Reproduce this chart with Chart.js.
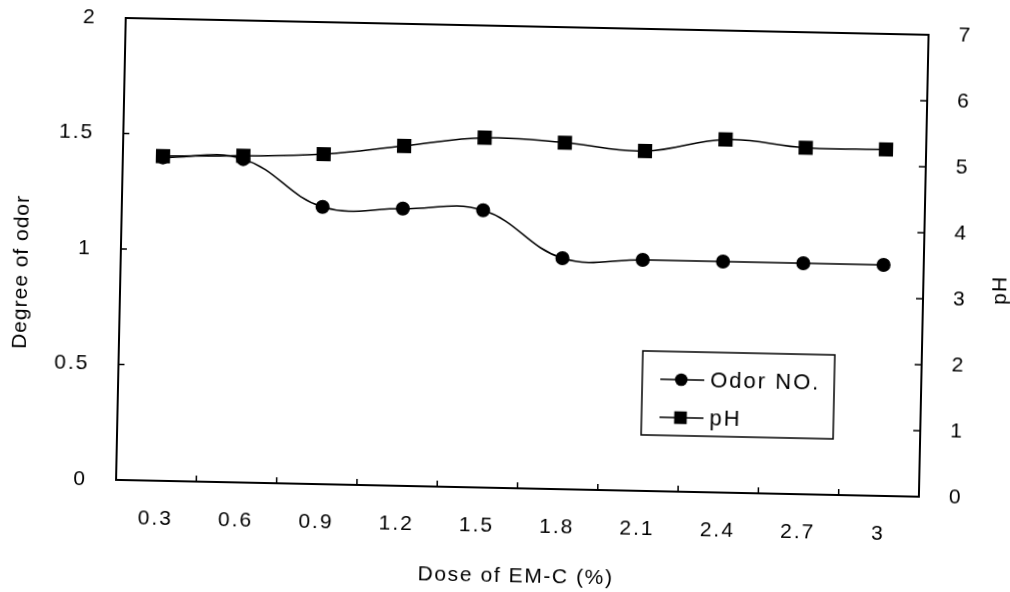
<!DOCTYPE html>
<html>
<head>
<meta charset="utf-8">
<title>Odor and pH vs EM-C dose</title>
<script src="https://cdn.jsdelivr.net/npm/chart.js@4/dist/chart.umd.min.js"></script>
<style>
  html, body { margin: 0; padding: 0; background: #fff; }
  #wrap { width: 1010px; height: 592px; overflow: hidden; }
  /* the printed figure sits slightly tilted on the page */
  #odorChart { display: block; transform: rotate(1.2deg); transform-origin: 505px 296px; }
</style>
</head>
<body>
<div id="wrap"><canvas id="odorChart" width="1010" height="592"></canvas></div>
<script>
(function(){
  'use strict';

  // Dosis de EM-C (%) y valores medidos
  const doses = ['0.3', '0.6', '0.9', '1.2', '1.5', '1.8', '2.1', '2.4', '2.7', '3'];
  const odorValues = [1.4, 1.4, 1.2, 1.2, 1.2, 1.0, 1.0, 1.0, 1.0, 1.0];
  const phValues = [4.92, 4.95, 5.0, 5.15, 5.3, 5.25, 5.15, 5.35, 5.25, 5.25];

  // Marcas de los ejes
  const odorTicks = [0, 0.5, 1, 1.5, 2];
  const phTicks = [0, 1, 2, 3, 4, 5, 6, 7];

  const FONT = '"Liberation Sans", Arial, Helvetica, sans-serif';
  const INK = '#000';
  const TICK_SPACING = '2px';

  // Marco, marcas hacia dentro, títulos y leyenda dibujados a mano
  const framePlugin = {
    id: 'frame',
    beforeInit(chart) { chart.ctx.letterSpacing = TICK_SPACING; },
    beforeUpdate(chart) { chart.ctx.letterSpacing = TICK_SPACING; },
    beforeDraw(chart) { chart.ctx.letterSpacing = TICK_SPACING; },
    beforeDatasetsDraw(chart) {
      const { ctx, chartArea: a, scales } = chart;
      ctx.save();
      ctx.strokeStyle = INK;
      ctx.lineWidth = 2;
      ctx.strokeRect(a.left, a.top, a.right - a.left, a.bottom - a.top);

      ctx.lineWidth = 1.5;
      ctx.beginPath();
      scales.y.ticks.forEach(t => {
        const p = scales.y.getPixelForValue(t.value);
        ctx.moveTo(a.left, p); ctx.lineTo(a.left + 6, p);
      });
      scales.y1.ticks.forEach(t => {
        const p = scales.y1.getPixelForValue(t.value);
        ctx.moveTo(a.right, p); ctx.lineTo(a.right - 7, p);
      });
      for (let i = 0; i < doses.length - 1; i++) {
        const p = (scales.x.getPixelForValue(i) + scales.x.getPixelForValue(i + 1)) / 2;
        ctx.moveTo(p, a.bottom); ctx.lineTo(p, a.bottom - 6);
      }
      ctx.stroke();
      ctx.restore();
    },
    afterDraw(chart) {
      const { ctx, chartArea: a } = chart;
      ctx.save();
      ctx.fillStyle = INK;
      ctx.font = '21px ' + FONT;
      ctx.textAlign = 'center';
      ctx.textBaseline = 'middle';

      // títulos de los ejes
      ctx.letterSpacing = '1.6px';
      ctx.fillText('Dose of EM-C (%)', (a.left + a.right) / 2, 576);

      ctx.letterSpacing = '1px';
      ctx.save();
      ctx.translate(21, 282);
      ctx.rotate(-Math.PI / 2);
      ctx.fillText('Degree of odor', 0, 0);
      ctx.restore();

      ctx.save();
      ctx.translate(1000, 280);
      ctx.rotate(-Math.PI / 2);
      ctx.fillText('pH', 0, 0);
      ctx.restore();

      // leyenda
      const box = { left: 644, top: 348, width: 192, height: 84 };
      ctx.lineWidth = 1.5;
      ctx.strokeStyle = INK;
      ctx.strokeRect(box.left, box.top, box.width, box.height);

      ctx.font = '22px ' + FONT;
      ctx.letterSpacing = '2px';
      const rows = [376, 414];
      chart.data.datasets.forEach((ds, i) => {
        const yy = rows[i];
        ctx.beginPath();
        ctx.lineWidth = ds.borderWidth;
        ctx.moveTo(box.left + 18, yy);
        ctx.lineTo(box.left + 62, yy);
        ctx.stroke();
        const cx = box.left + 39;
        ctx.beginPath();
        if (ds.pointStyle === 'rect') {
          ctx.rect(cx - 6.3, yy - 6.3, 12.6, 12.6);
        } else {
          ctx.arc(cx, yy, 6.3, 0, Math.PI * 2);
        }
        ctx.fill();
        ctx.textAlign = 'left';
        ctx.fillText(ds.label, box.left + 68, yy + 1);
      });
      ctx.restore();
    }
  };

  function fixTicks(values) {
    return function(scale) { scale.ticks = values.map(v => ({ value: v })); };
  }

  // ancho fijo del eje y sin holgura extra arriba/abajo
  function fixWidth(w) {
    return function(s) {
      s.width = w;
      s.paddingTop = 0;
      s.paddingBottom = 0;
    };
  }

  function initChart() {
    if (typeof Chart === 'undefined') {
      console.warn('Chart.js no está cargado.');
      return;
    }
    const el = document.getElementById('odorChart');
    if (!el) return;

    Chart.defaults.font.family = FONT;
    Chart.defaults.color = INK;

    const tickFont = { size: 21, family: FONT };
    const plain = v => String(v);

    new Chart(el.getContext('2d'), {
      type: 'line',
      data: {
        labels: doses,
        datasets: [
          {
            label: 'Odor NO.',
            data: odorValues,
            yAxisID: 'y',
            borderColor: INK,
            backgroundColor: INK,
            borderWidth: 1.5,
            tension: 0.4,
            pointStyle: 'circle',
            pointRadius: 6.3,
            pointHoverRadius: 6.3,
            order: 1
          },
          {
            label: 'pH',
            data: phValues,
            yAxisID: 'y1',
            borderColor: INK,
            backgroundColor: INK,
            borderWidth: 1.5,
            tension: 0.4,
            pointStyle: 'rect',
            pointRadius: 9,
            pointHoverRadius: 9,
            order: 0
          }
        ]
      },
      options: {
        responsive: false,
        animation: false,
        layout: { padding: { top: 26, left: 0, right: 0, bottom: 0 } },
        plugins: {
          legend: { display: false },
          tooltip: { enabled: false }
        },
        scales: {
          x: {
            offset: true,
            grid: { display: false },
            border: { display: false },
            ticks: { font: tickFont, padding: 18, maxRotation: 0, autoSkip: false },
            afterFit(s) { s.height = 104; s.paddingLeft = 0; s.paddingRight = 0; }
          },
          y: {
            position: 'left',
            min: 0, max: 2,
            grid: { display: false },
            border: { display: false },
            ticks: { font: tickFont, padding: 21, callback: plain },
            afterBuildTicks: fixTicks(odorTicks),
            afterFit: fixWidth(120)
          },
          y1: {
            position: 'right',
            min: 0, max: 7,
            grid: { display: false },
            border: { display: false },
            ticks: { font: tickFont, padding: 22, callback: plain },
            afterBuildTicks: fixTicks(phTicks),
            afterFit: fixWidth(87)
          }
        }
      },
      plugins: [framePlugin]
    });
  }

  if (document.readyState === 'loading') {
    document.addEventListener('DOMContentLoaded', initChart);
  } else {
    initChart();
  }
})();
</script>
</body>
</html>
